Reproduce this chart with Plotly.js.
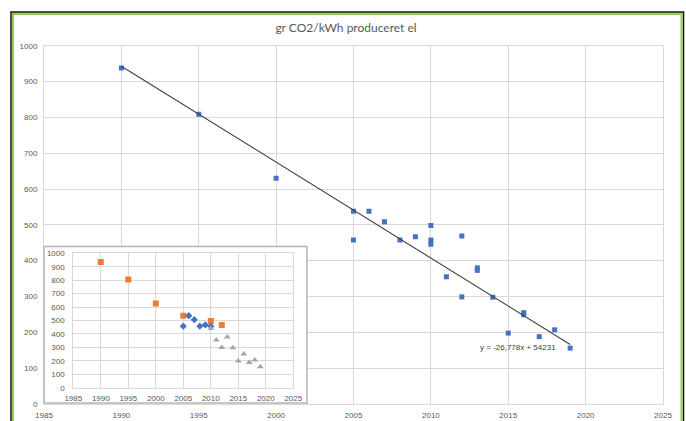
<!DOCTYPE html>
<html>
<head>
<meta charset="utf-8">
<script src="https://cdn.plot.ly/plotly-3.0.1.min.js"></script>
<style>html,body{margin:0;padding:0;background:#fff}#chart{width:686px;height:421px}</style>
</head>
<body>
<div id="chart"></div>
<script>
// ---- data ----
const titleText = 'gr CO2/kWh produceret el';

// main chart: all yearly observations (blue squares)
const mainYears  = [1990, 1995, 2000, 2005, 2005, 2006, 2007, 2008, 2009, 2010, 2010, 2010, 2011, 2012, 2012, 2013, 2013, 2014, 2015, 2016, 2016, 2017, 2018, 2019];
const mainValues = [938,  809,  630,  538,  458,  538,  509,  458,  467,  498,  458,  446,  355,  469,  299,  380,  373,  298,  198,  255,  249,  188,  207,  156];

// linear trendline as printed on the chart
const trendSlope = -26.778;
const trendIntercept = 54231;
const trendYears = [1990, 2019];
const trendLabel = 'y = -26,778x + 54231';

// inset chart: three series
const orangeYears  = [1990, 1995, 2000, 2005, 2010, 2012];
const orangeValues = [935,  805,  627,  535,  497,  467];
const blueYears    = [2005, 2006, 2007, 2008, 2009, 2010];
const blueValues   = [458,  536,  506,  458,  467,  457];
const grayYears    = [2010, 2011, 2012, 2013, 2014, 2015, 2016, 2017, 2018, 2019];
const grayValues   = [440,  355,  299,  377,  298,  198,  250,  188,  207,  156];

// ticks
const xTickVals = [1985, 1990, 1995, 2000, 2005, 2010, 2015, 2020, 2025];
const xTickText = ['1985', '1990', '1995', '2000', '2005', '2010', '2015', '2020', '2025'];
const yTickVals = [0, 100, 200, 300, 400, 500, 600, 700, 800, 900, 1000];
const yTickText = ['0', '100', '200', '300', '400', '500', '600', '700', '800', '900', '1000'];

// ---- layout helpers (pixel -> paper fraction) ----
const W = 686, H = 421;
const px = v => v / W;
const py = v => (H - v) / H;

const gridCol = '#d9d9d9';
const tickFont = {family: 'Liberation Sans, Arial, sans-serif', size: 8, color: '#595959'};

const traces = [
  {type: 'scatter', mode: 'markers', x: mainYears, y: mainValues, xaxis: 'x', yaxis: 'y',
   marker: {symbol: 'square', size: 5, color: '#4472C4'}},
  {type: 'scatter', mode: 'lines', x: trendYears, y: trendYears.map(t => trendSlope * t + trendIntercept),
   xaxis: 'x', yaxis: 'y', line: {color: '#404040', width: 1.1}},
  // empty subplot used as the inset's white card
  {type: 'scatter', mode: 'markers', x: [], y: [], xaxis: 'x2', yaxis: 'y2'},
  {type: 'scatter', mode: 'markers', x: orangeYears, y: orangeValues, xaxis: 'x3', yaxis: 'y3',
   marker: {symbol: 'square', size: 6, color: '#ED7D31'}},
  {type: 'scatter', mode: 'markers', x: blueYears, y: blueValues, xaxis: 'x3', yaxis: 'y3',
   marker: {symbol: 'diamond', size: 5.5, color: '#4472C4'}},
  {type: 'scatter', mode: 'markers', x: grayYears, y: grayValues, xaxis: 'x3', yaxis: 'y3',
   marker: {symbol: 'triangle-up', size: 6, color: '#A5A5A5'}}
];

function axisStyle(extra) {
  return Object.assign({
    showgrid: true, gridcolor: gridCol, gridwidth: 1, zeroline: false,
    showline: true, linecolor: gridCol, linewidth: 1, mirror: true,
    ticks: '', tickfont: tickFont, fixedrange: true, tickmode: 'array'
  }, extra);
}

const layout = {
  width: W, height: H,
  margin: {l: 0, r: 0, t: 0, b: 0},
  paper_bgcolor: '#ffffff', plot_bgcolor: '#ffffff',
  showlegend: false, hovermode: false,
  font: {family: 'Liberation Sans, Arial, sans-serif', size: 8, color: '#595959'},
  title: {text: titleText, x: px(346), xanchor: 'center', y: py(28), yanchor: 'middle',
          font: {family: 'Lato, Liberation Sans, sans-serif', size: 12, color: '#595959'}},
  xaxis: axisStyle({domain: [px(44), px(663)], range: [1985, 2025], anchor: 'y',
                    tickvals: xTickVals, ticktext: xTickText,
                    ticks: 'outside', ticklen: 3, tickcolor: 'rgba(0,0,0,0)'}),
  yaxis: axisStyle({domain: [py(404), py(45.7)], range: [0, 1000], anchor: 'x',
                    tickvals: yTickVals, ticktext: yTickText, ticklabelstandoff: 4}),
  xaxis2: {domain: [px(44), px(307)], anchor: 'y2', range: [0, 1], visible: false, fixedrange: true},
  yaxis2: {domain: [py(403), py(246)], anchor: 'x2', range: [0, 1], visible: false, fixedrange: true},
  xaxis3: axisStyle({domain: [px(73.3), px(293.3)], range: [1985, 2025], anchor: 'y3',
                     tickvals: xTickVals, ticktext: xTickText,
                     ticks: 'outside', ticklen: 3, tickcolor: 'rgba(0,0,0,0)'}),
  yaxis3: axisStyle({domain: [py(387.7), py(253.3)], range: [0, 1000], anchor: 'x3',
                     tickvals: yTickVals, ticktext: yTickText, ticklabelstandoff: 6}),
  shapes: [
    // inset frame
    {type: 'rect', xref: 'paper', yref: 'paper', layer: 'above',
     x0: px(44), x1: px(307), y0: py(403), y1: py(246.5),
     line: {color: '#b4b4b4', width: 1.5}, fillcolor: 'rgba(0,0,0,0)'},
    // outer black frame
    {type: 'rect', xref: 'paper', yref: 'paper', layer: 'above',
     x0: px(11), x1: px(683.5), y0: -0.1, y1: py(12),
     line: {color: '#111111', width: 1.5}, fillcolor: 'rgba(0,0,0,0)'},
    // inner green frame
    {type: 'rect', xref: 'paper', yref: 'paper', layer: 'above',
     x0: px(13), x1: px(681.5), y0: -0.1, y1: py(14),
     line: {color: '#92D050', width: 2}, fillcolor: 'rgba(0,0,0,0)'}
  ],
  annotations: [
    {xref: 'x', yref: 'y', x: 2015.6, y: 159, text: trendLabel, showarrow: false,
     xanchor: 'center', yanchor: 'middle', font: {family: 'Liberation Sans, Arial, sans-serif', size: 8, color: '#404040'}}
  ]
};

Plotly.newPlot('chart', traces, layout, {staticPlot: true, displayModeBar: false});
</script>
</body>
</html>
